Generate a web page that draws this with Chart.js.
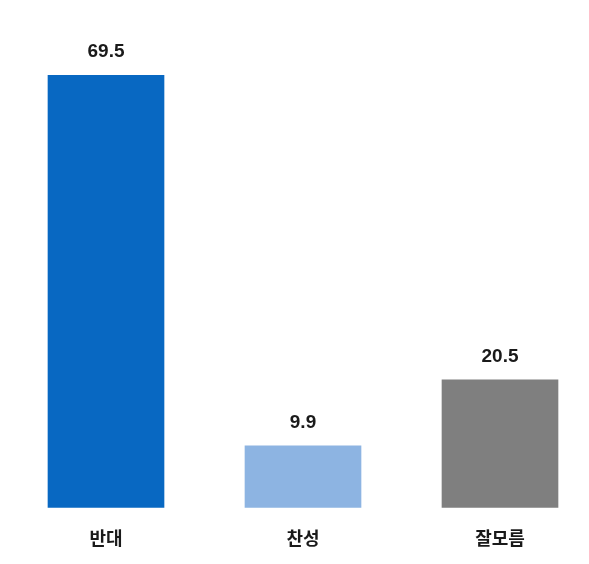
<!DOCTYPE html><html><head><meta charset="utf-8">
<script src="https://cdn.jsdelivr.net/npm/chart.js@4"></script>
<style>html,body{margin:0;background:#fff}#w{width:589px;height:564px}</style></head><body>
<div id="w"><canvas id="c"></canvas></div>
<script>
const categories=['반대','찬성','잘모름'];
const values=[69.5,9.9,20.5];
const colors=['#0868c2','#8db4e2','#7f7f7f'];
const labelPlugin={id:'lbl',afterDatasetsDraw(ch){const ctx=ch.ctx;const m=ch.getDatasetMeta(0);ctx.save();ctx.font='bold 19px "Liberation Sans", sans-serif';ctx.fillStyle='#1a1a1a';ctx.textAlign='center';ctx.textBaseline='bottom';m.data.forEach((b,i)=>ctx.fillText(values[i].toFixed(1),b.x,b.y-14));ctx.restore();}};
new Chart(document.getElementById('c'),{type:'bar',data:{labels:categories,datasets:[{data:values,backgroundColor:colors,barThickness:116,clip:false}]},
options:{responsive:true,maintainAspectRatio:false,animation:false,layout:{padding:{left:106,right:89,top:10,bottom:3}},
plugins:{legend:{display:false},tooltip:{enabled:false}},
scales:{y:{display:false,min:0,max:80},x:{offset:false,grid:{display:false},border:{display:false},ticks:{padding:12,color:'#1a1a1a',font:{size:18,weight:'bold',family:'"Noto Sans CJK KR", sans-serif'}}}}},plugins:[labelPlugin]});
</script></body></html>
